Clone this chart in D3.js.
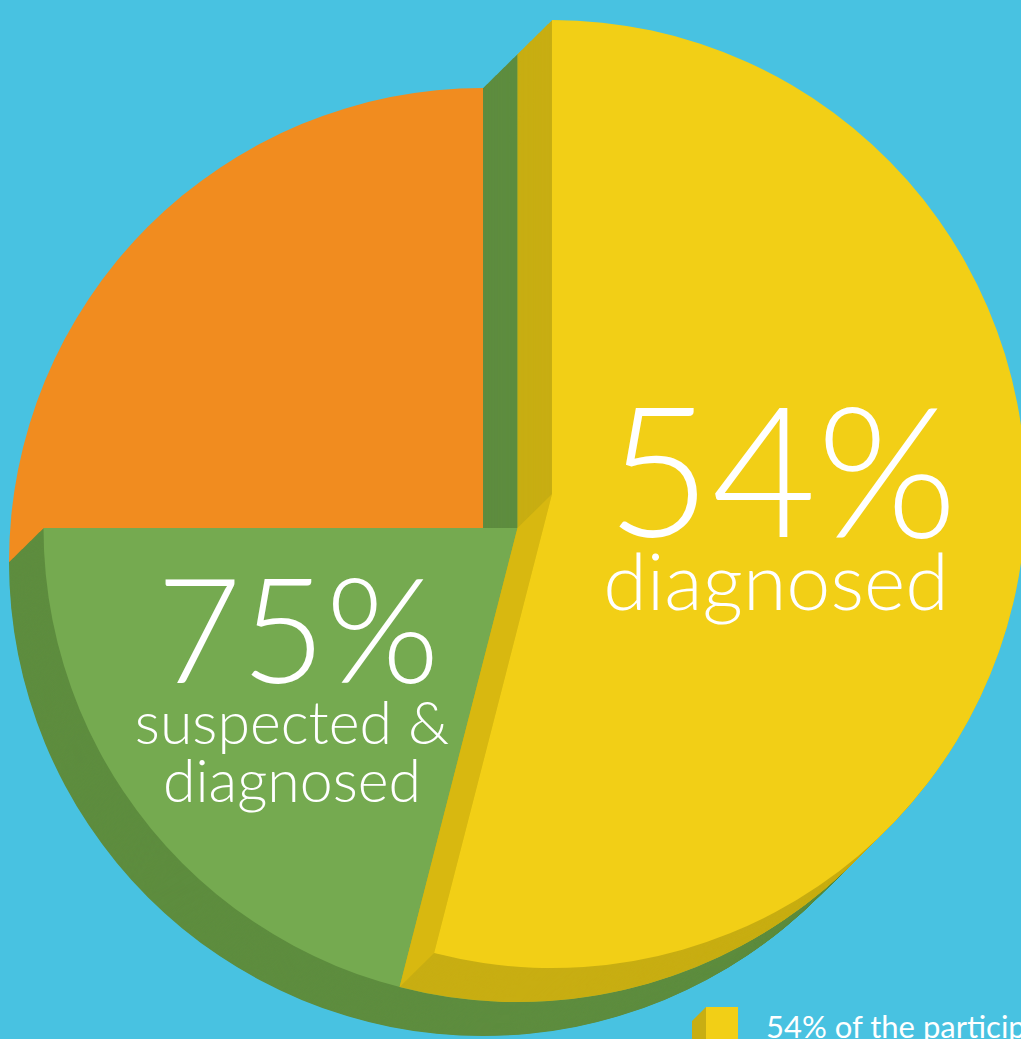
<!DOCTYPE html>
<html>
<head>
<meta charset="utf-8">
<script src="https://cdn.jsdelivr.net/npm/d3@7"></script>
<style>
  html, body { margin: 0; padding: 0; background: #48C2E1; overflow: hidden; }
  svg { display: block; }
  text { font-family: Lato, "Open Sans", sans-serif; fill: #ffffff; }
</style>
</head>
<body>
<svg id="chart" width="1021" height="1039"></svg>
<script>
// ---- data ----
const categories = ["diagnosed", "suspected & diagnosed", "not diagnosed"];
const cumulativePercents = [54, 75, 100];
const bigLabels = ["54%", "75%"];
const subLabels = [["diagnosed"], ["suspected &", "diagnosed"]];
const legendTexts = ["54% of the participants"];

// ---- styles ----
const bg = "#48C2E1";
const topColors = ["#F2CF16", "#75AA50", "#F18C1F"];
const sideColors = ["#C8AE13", "#5E8D3F", "#F18C1F"];
const diagFaceColor = "#D8B810";

const svg = d3.select("#chart");
svg.append("rect").attr("width", 1021).attr("height", 1039).attr("fill", bg);

const R = 474;
const depth = [-34.5, 34];
const centers = [[552, 494], [517.5, 528], [483, 562]]; // yellow, green, orange
const angle = d3.scaleLinear().domain([0, 100]).range([0, 2 * Math.PI]);
const arc = d3.arc().innerRadius(0).outerRadius(R);

// Orange: the remaining share (75 -> 100) on the lowest level
svg.append("path")
  .attr("transform", `translate(${centers[2][0]},${centers[2][1]})`)
  .attr("d", arc({ startAngle: angle(cumulativePercents[1]), endAngle: angle(cumulativePercents[2]) }))
  .attr("fill", topColors[2]);

function extruded(idx, pct) {
  const [cx, cy] = centers[idx];
  const g = svg.append("g");
  const d = arc({ startAngle: 0, endAngle: angle(pct) });
  const steps = 70;
  for (let i = steps; i >= 1; i--) {
    const t = i / steps;
    g.append("path")
      .attr("transform", `translate(${cx + depth[0] * t},${cy + depth[1] * t})`)
      .attr("d", d)
      .attr("fill", sideColors[idx]);
  }
  return { g, d, cx, cy };
}

// Green: 75% layer
const green = extruded(1, cumulativePercents[1]);
svg.append("path")
  .attr("transform", `translate(${green.cx},${green.cy})`)
  .attr("d", green.d)
  .attr("fill", topColors[1]);

// Yellow: 54% layer
const yellow = extruded(0, cumulativePercents[0]);
{
  const a = angle(cumulativePercents[0]);
  const [cx, cy] = centers[0];
  const px = cx + R * Math.sin(a), py = cy - R * Math.cos(a);
  const pts = [[cx, cy], [px, py], [px + depth[0], py + depth[1]], [cx + depth[0], cy + depth[1]]];
  svg.append("polygon").attr("points", pts.map(p => p.join(",")).join(" ")).attr("fill", diagFaceColor);
}
svg.append("path")
  .attr("transform", `translate(${yellow.cx},${yellow.cy})`)
  .attr("d", yellow.d)
  .attr("fill", topColors[0]);

// ---- labels ----
svg.append("text").attr("x", 782).attr("y", 537).attr("text-anchor", "middle")
  .attr("font-size", 181).attr("font-weight", 300).text(bigLabels[0]);
svg.append("text").attr("x", 776).attr("y", 610).attr("text-anchor", "middle")
  .attr("font-size", 79).attr("font-weight", 300).text(subLabels[0][0]);

svg.append("text").attr("x", 298).attr("y", 683).attr("text-anchor", "middle")
  .attr("font-size", 146).attr("font-weight", 300).text(bigLabels[1]);
subLabels[1].forEach((s, i) => {
  svg.append("text").attr("x", 292).attr("y", 744 + i * 58).attr("text-anchor", "middle")
    .attr("font-size", 59).attr("font-weight", 300).text(s);
});

// ---- legend ----
const lg = svg.append("g");
lg.append("polygon").attr("points", "706,1007 692,1021 692,1045 706,1045").attr("fill", sideColors[0]);
lg.append("rect").attr("x", 706).attr("y", 1007).attr("width", 32).attr("height", 40).attr("fill", topColors[0]);
lg.append("text").attr("x", 766).attr("y", 1038).attr("font-size", 31).attr("font-weight", 400).text(legendTexts[0]);
</script>
</body>
</html>
